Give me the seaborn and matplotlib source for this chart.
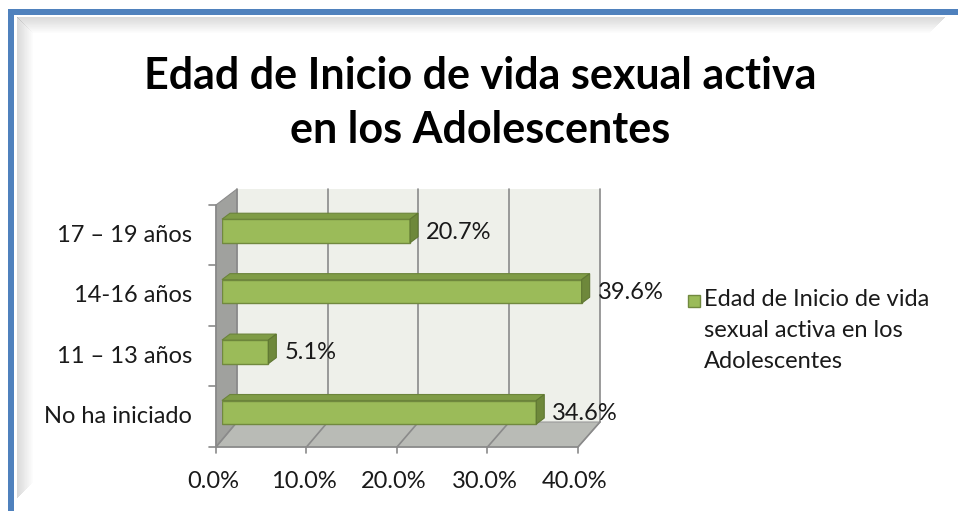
import matplotlib
matplotlib.use("Agg")
import matplotlib.pyplot as plt
import seaborn as sns
import pandas as pd
from matplotlib.patches import Polygon, Rectangle

# data
categories = ["17 – 19 años", "14-16 años", "11 – 13 años", "No ha iniciado"]
values = [20.7, 39.6, 5.1, 34.6]
x_ticks = [0, 10, 20, 30, 40]
x_labels = ["0.0%", "10.0%", "20.0%", "30.0%", "40.0%"]
legend_label = "Edad de Inicio de vida\nsexual activa en los\nAdolescentes"
title = "Edad de Inicio de vida sexual activa\nen los Adolescentes"

sns.set_theme(style="white")
plt.rcParams["font.family"] = ["Lato", "DejaVu Sans"]

W, H = 958, 511
fig = plt.figure(figsize=(W / 100, H / 100), dpi=100)
fig.patch.set_facecolor("white")

# background canvas in pixel units (y downwards) for frame and 3d walls
bg = fig.add_axes([0, 0, 1, 1], zorder=0)
bg.set_xlim(0, W)
bg.set_ylim(H, 0)
bg.axis("off")


def px_rect(x0, y0, x1, y1):
    return [x0 / W, 1 - y1 / H, (x1 - x0) / W, (y1 - y0) / H]


# outer frame: blue border + soft inner shadow
bg.add_patch(Rectangle((8, 9), 6, H, color="#4f81bd", lw=0))
bg.add_patch(Rectangle((8, 9), W, 6, color="#4f81bd", lw=0))
for i in range(16):
    a = 0.16 * (1 - i / 16)
    bg.add_patch(Rectangle((17 + i, 17 + i), 1, H - 30 - 2 * i, color="k", alpha=a, lw=0))
    bg.add_patch(Rectangle((17 + i, 17 + i), W - 30 - 2 * i, 1, color="k", alpha=a, lw=0))

# bar axes
ax = fig.add_axes(px_rect(222, 200.8, 585.3, 442.5), zorder=1)
df = pd.DataFrame({"cat": categories, "pct": values})
sns.barplot(data=df, x="pct", y="cat", orient="h", color="#9bbb59", saturation=1,
            width=0.39, edgecolor="#71893f", linewidth=1, ax=ax)
ax.set_xlim(0, 40)
ax.set_ylim(len(categories) - 0.5, -0.5)
ax.axis("off")
ax.patch.set_alpha(0)

# 3d box geometry (pixels)
fl, fr, ft, fb = 216, 578, 205, 447      # front frame
bl, br, bt, bb = 237, 600, 189, 422      # back wall
grid_c = "#8a8a8a"
fs = 17

bg.add_patch(Rectangle((bl, bt), br - bl, bb - bt, color="#eef0ea", lw=0))
bg.add_patch(Polygon([(fl, ft), (bl, bt), (bl, bb), (fl, fb)], closed=True,
                     facecolor="#a0a19e", edgecolor="#8c8c8c", lw=0.8))
bg.add_patch(Polygon([(fl, fb), (bl, bb), (br, bb), (fr, fb)], closed=True,
                     facecolor="#b9bbb6", edgecolor="#9a9a9a", lw=0.8))

for v, lab in zip(x_ticks, x_labels):
    xf = fl + (fr - fl) * v / x_ticks[-1]
    xb = bl + (br - bl) * v / x_ticks[-1]
    bg.plot([xb, xb], [bt, bb], color=grid_c, lw=1.2)
    bg.plot([xf, xb], [fb, bb], color=grid_c, lw=1.2)
    bg.plot([xf, xf], [fb, fb + 6], color=grid_c, lw=1.2)
    bg.text(xf - 3, 481, lab, ha="center", va="center", fontsize=fs, color="#1a1a1a")

bg.plot([fl, fl], [ft, fb], color=grid_c, lw=1.2)
bg.plot([fl, fr], [fb, fb], color=grid_c, lw=1.2)
n = len(categories)
for i in range(n + 1):
    y = ft + (fb - ft) * i / n
    bg.plot([fl - 7, fl], [y, y], color=grid_c, lw=1.2)
for i, cat in enumerate(categories):
    y = ft + (fb - ft) * (i + 0.5) / n
    bg.text(192, y, cat, ha="right", va="center", fontsize=fs, color="#1a1a1a")

# 3d faces and value labels for every bar
to_px = lambda pt: bg.transData.inverted().transform(ax.transData.transform(pt))
dx, dy = 8, -6
for p, v in zip(ax.patches, values):
    x0, y0 = p.get_x(), p.get_y()
    x1, y1 = x0 + p.get_width(), y0 + p.get_height()
    lt = to_px((x0, y0))
    rt = to_px((x1, y0))
    rb = to_px((x1, y1))
    top = [lt, rt, (rt[0] + dx, rt[1] + dy), (lt[0] + dx, lt[1] + dy)]
    side = [rt, rb, (rb[0] + dx, rb[1] + dy), (rt[0] + dx, rt[1] + dy)]
    ax.add_patch(Polygon(top, closed=True, transform=bg.transData, clip_on=False,
                         facecolor="#7f9c46", edgecolor="#6b843a", lw=0.8))
    ax.add_patch(Polygon(side, closed=True, transform=bg.transData, clip_on=False,
                         facecolor="#6e883b", edgecolor="#5f7732", lw=0.8))
    bg.text(rt[0] + 16, (rt[1] + rb[1]) / 2 + 1, f"{v:.1f}%", ha="left", va="center",
            fontsize=fs, color="#1a1a1a", zorder=5)

# legend
bg.add_patch(Rectangle((688, 295), 12, 12, facecolor="#9bbb59", edgecolor="#71893f", lw=1))
bg.text(704, 289, legend_label, ha="left", va="top", fontsize=fs, color="#1a1a1a",
        linespacing=1.6)

# title
bg.text(480, 103, title, ha="center", va="center", fontsize=31, fontweight="bold",
        color="black", linespacing=1.45)

fig.savefig("out.png", dpi=100)
